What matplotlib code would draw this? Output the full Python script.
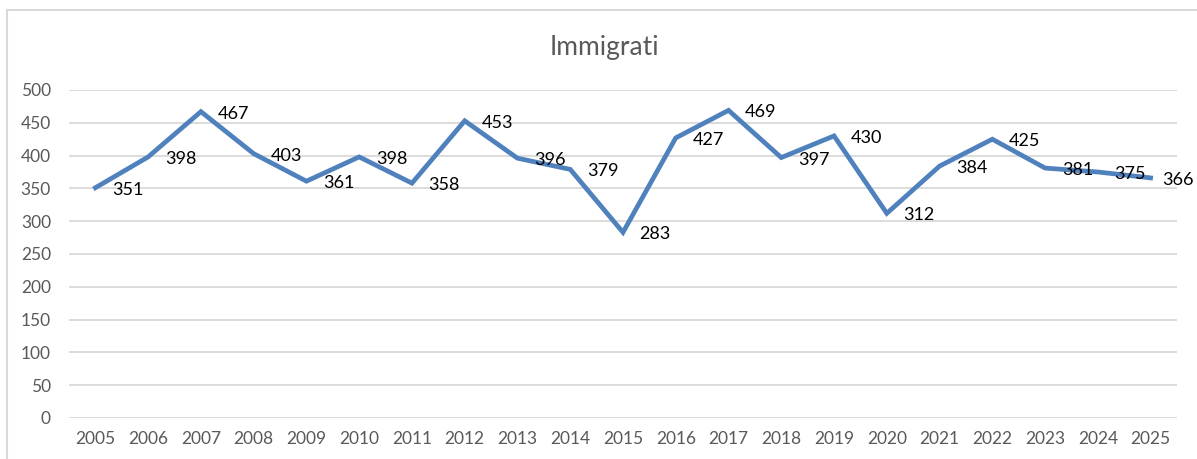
import matplotlib.pyplot as plt
from matplotlib.lines import Line2D

# Immigrati per anno
years = ["2005", "2006", "2007", "2008", "2009", "2010", "2011", "2012", "2013", "2014",
         "2015", "2016", "2017", "2018", "2019", "2020", "2021", "2022", "2023", "2024", "2025"]
immigrati = [351, 398, 467, 403, 361, 398, 358, 453, 396, 379,
             283, 427, 469, 397, 430, 312, 384, 425, 381, 375, 366]
y_ticks = [0, 50, 100, 150, 200, 250, 300, 350, 400, 450, 500]

plt.rcParams["font.family"] = ["Lato", "DejaVu Sans"]

W, H = 1197, 459
fig = plt.figure(figsize=(W / 100, H / 100), dpi=100)

# chart frame (Excel style border)
fig.add_artist(Line2D([7 / W, 1], [1 - 10 / H, 1 - 10 / H], color="#d9d9d9", lw=1.5))
fig.add_artist(Line2D([7 / W, 7 / W], [0, 1 - 10 / H], color="#d9d9d9", lw=1.5))

ax = fig.add_axes([69 / W, 41 / H, (1177 - 69) / W, (418 - 90) / H])

x = list(range(len(years)))
ax.plot(x, immigrati, color="#4f81bd", lw=3.4, solid_joinstyle="miter", clip_on=False)

for xi, v in zip(x, immigrati):
    # last label sits against the right edge, as in the original
    dx = 8 if xi == len(years) - 1 else 12
    ax.annotate(str(v), (xi, v), xytext=(dx, -1.5), textcoords="offset points",
                ha="left", va="center", fontsize=13, color="black", annotation_clip=False)

ax.set_xlim(-0.5, len(years) - 0.5)
ax.set_ylim(0, 500)
ax.set_yticks(y_ticks)
ax.set_xticks(x)
ax.set_xticklabels(years)
ax.tick_params(length=0, labelsize=12.5, colors="#595959")
ax.tick_params(axis="y", pad=13)
ax.tick_params(axis="x", pad=9)
ax.grid(axis="y", color="#d9d9d9", lw=1.3)
ax.set_axisbelow(True)
for s in ax.spines.values():
    s.set_visible(False)

fig.text(604 / W, 1 - 47 / H, "Immigrati", ha="center", va="center", fontsize=19, color="#595959")

fig.savefig("out.png", dpi=100)
